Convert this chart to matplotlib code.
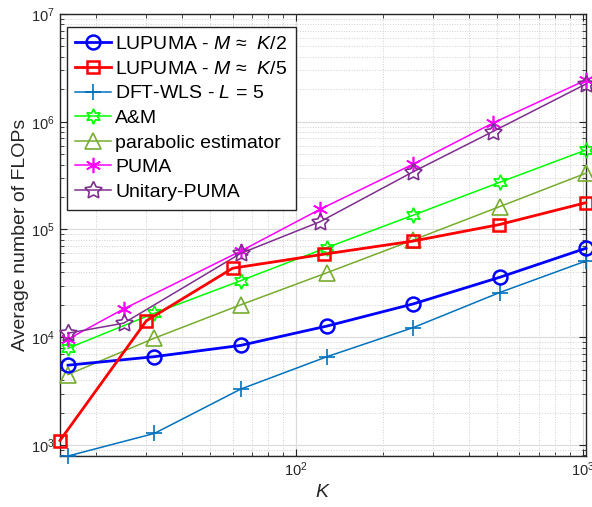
import numpy as np
import matplotlib.pyplot as plt

plt.rcParams['font.family'] = ['Liberation Sans', 'DejaVu Sans']
plt.rcParams['mathtext.fontset'] = 'custom'
plt.rcParams['mathtext.rm'] = 'Liberation Sans'
plt.rcParams['mathtext.it'] = 'Liberation Sans:italic'

# problem sizes
K_pow2 = [16, 32, 64, 128, 256, 512, 1024]
K_div5 = [15, 30, 60, 125, 255, 510, 1020]
K_sq = [16, 25, 64, 121, 256, 484, 1024]

# average flop counts
lupuma_half = [5.5e3, 6.6e3, 8.4e3, 1.27e4, 2.04e4, 3.6e4, 6.7e4]
lupuma_fifth = [1.1e3, 1.42e4, 4.37e4, 5.9e4, 7.8e4, 1.11e5, 1.77e5]
dft_wls = [790, 1.28e3, 3.3e3, 6.6e3, 1.23e4, 2.6e4, 5.1e4]
am = [7.9e3, 1.67e4, 3.35e4, 6.8e4, 1.36e5, 2.74e5, 5.47e5]
parabolic = [4.5e3, 9.8e3, 2.0e4, 3.97e4, 8.0e4, 1.63e5, 3.33e5]
puma = [9.6e3, 1.83e4, 6.3e4, 1.54e5, 4.05e5, 9.7e5, 2.44e6]
unitary_puma = [1.09e4, 1.35e4, 6.0e4, 1.18e5, 3.44e5, 8.1e5, 2.24e6]

fig = plt.figure(figsize=(5.92, 5.07), dpi=100)
ax = fig.add_axes([60/592, 1-456/507, 526/592, 442/507])

asterisk = (6, 2, 0)
hexagram = (6, 1, 0)
pentagram = (5, 1, 0)

ax.plot(K_pow2, lupuma_half, '-o', color=(0, 0, 1), lw=2.0, ms=10, mfc='none', mew=1.8,
        clip_on=False, zorder=5, label=r'LUPUMA - $\mathit{M}$ ≈  $\mathit{K/2}$')
ax.plot(K_div5, lupuma_fifth, '-s', color=(1, 0, 0), lw=2.0, ms=8, mfc='none', mew=1.8,
        clip_on=False, zorder=5, label=r'LUPUMA - $\mathit{M}$ ≈  $\mathit{K/5}$')
ax.plot(K_pow2, dft_wls, '-+', color='#0072BD', lw=1.1, ms=11, mew=1.2,
        clip_on=False, zorder=4, label=r'DFT-WLS - $\mathit{L}$ = $\mathit{5}$')
ax.plot(K_pow2, am, '-', marker=hexagram, color=(0, 1, 0), lw=1.1, ms=11, mfc='none', mew=1.2,
        clip_on=False, zorder=4, label='A&M')
ax.plot(K_pow2, parabolic, '-^', color='#77AC30', lw=1.1, ms=11, mfc='none', mew=1.2,
        clip_on=False, zorder=4, label='parabolic estimator')
ax.plot(K_sq, puma, '-', marker=asterisk, color=(1, 0, 1), lw=1.1, ms=11, mew=1.2,
        clip_on=False, zorder=4, label='PUMA')
ax.plot(K_sq, unitary_puma, '-', marker=pentagram, color='#7E2F8E', lw=1.1, ms=13, mfc='none',
        mew=1.2, clip_on=False, zorder=4, label='Unitary-PUMA')

ax.set_xscale('log')
ax.set_yscale('log')
ax.set_xlim(15, 1024)
ax.set_ylim(790, 1e7)

ax.grid(True, which='major', color='#dcdcdc', lw=0.9, ls='-')
ax.grid(True, which='minor', color='#d0d0d0', lw=0.7, ls=':')
ax.set_axisbelow(True)

ax.tick_params(which='both', direction='in', top=True, right=True, colors='#262626',
               labelsize=10.5, labelcolor='#262626')
ax.tick_params(which='major', length=5)
ax.tick_params(which='minor', length=3)
for s in ax.spines.values():
    s.set_color('#262626')
    s.set_linewidth(1.0)

ax.set_xlabel('$\\mathit{K}$', fontsize=14, color='#262626', labelpad=3)
ax.set_ylabel('Average number of FLOPs', fontsize=14, color='#262626', labelpad=2)

leg = ax.legend(loc='upper left', bbox_to_anchor=(0.0127, 0.971), borderaxespad=0,
                fontsize=14, handlelength=1.85, handletextpad=0.2, labelspacing=0.36,
                borderpad=0.45, fancybox=False, framealpha=1, edgecolor='#262626')
leg.get_frame().set_linewidth(1.0)

fig.savefig('out.png', dpi=100)
